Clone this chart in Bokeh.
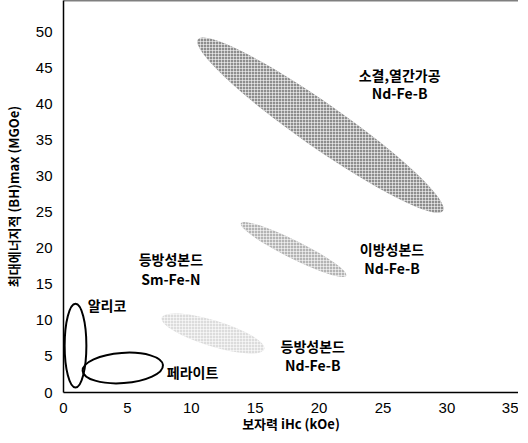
from bokeh.plotting import figure
from bokeh.models import ColumnDataSource, Range1d, Span, FixedTicker
from bokeh.core.properties import value
from bokeh.embed import file_html
from bokeh.resources import INLINE
import math

# --- data ---------------------------------------------------------------
# filled (stippled) regions
fill_names = ["소결,열간가공 Nd-Fe-B", "이방성본드 Nd-Fe-B", "등방성본드 Nd-Fe-B"]
fill_cx = [20.1, 18.0, 11.7]          # coercivity iHc (kOe), centre
fill_cy = [37.1, 19.85, 8.2]          # (BH)max (MGOe), centre
fill_w = [23.4, 9.2, 8.4]             # major extent (kOe)
fill_h = [6.1, 2.5, 3.6]              # minor extent (MGOe)
fill_angle_deg = [-35.0, -26.5, -17.0]
fill_colors = ["#8e8e8e", "#b4b4b4", "#dcdcdc"]

# outline regions
line_names = ["알리코", "페라이트"]
line_cx = [0.94, 4.64]
line_cy = [6.5, 3.4]
line_w = [1.7, 6.3]
line_h = [11.6, 4.2]
line_angle_deg = [0.0, 4.0]

# labels
label_text = ["소결,열간가공", "Nd-Fe-B",
              "이방성본드", "Nd-Fe-B",
              "등방성본드", "Sm-Fe-N",
              "등방성본드", "Nd-Fe-B",
              "알리코", "페라이트"]
label_x = [26.3, 26.3, 25.7, 25.7, 8.4, 8.4, 19.5, 19.5, 3.4, 10.1]
label_y = [44.1, 41.6, 19.9, 17.3, 18.5, 15.7, 6.5, 3.8, 12.1, 2.8]

x_ticks = [0, 5, 10, 15, 20, 25, 30, 35]
y_ticks = [0, 5, 10, 15, 20, 25, 30, 35, 40, 45, 50]
x_title = "보자력 iHc (kOe)"
y_title = "최대에너지적 (BH)max (MGOe)"
x_end = 35.6
y_end = 54.4

# --- figure -------------------------------------------------------------
p = figure(width=518, height=435, output_backend="svg", toolbar_location=None,
           x_range=Range1d(0, x_end), y_range=Range1d(0, y_end),
           min_border_left=53, min_border_right=0, min_border_top=0,
           min_border_bottom=40)
p.outline_line_color = None
p.grid.visible = False
p.background_fill_color = "white"
p.border_fill_color = "white"

src_fill = ColumnDataSource(dict(
    x=fill_cx, y=fill_cy, w=fill_w, h=fill_h,
    a=[math.radians(d) for d in fill_angle_deg], c=fill_colors, n=fill_names))
p.ellipse(x="x", y="y", width="w", height="h", angle="a", source=src_fill,
          fill_color="c", line_color=None,
          hatch_pattern="+", hatch_color="white", hatch_scale=3,
          hatch_weight=1, hatch_alpha=0.55)

src_line = ColumnDataSource(dict(
    x=line_cx, y=line_cy, w=line_w, h=line_h,
    a=[math.radians(d) for d in line_angle_deg], n=line_names))
p.ellipse(x="x", y="y", width="w", height="h", angle="a", source=src_line,
          fill_color=None, line_color="black", line_width=2)

src_lab = ColumnDataSource(dict(x=label_x, y=label_y, t=label_text))
p.text(x="x", y="y", text="t", source=src_lab,
       text_font=value("Noto Sans CJK KR"), text_font_style="bold",
       text_font_size="14px", text_align="center", text_baseline="middle",
       text_color="black")

top = Span(location=y_end, dimension="width", line_color="black", line_width=1.5)
p.add_layout(top)

for ax in (p.xaxis[0], p.yaxis[0]):
    ax.axis_line_color = "black"
    ax.axis_line_width = 1.5
    ax.major_tick_line_color = None
    ax.minor_tick_line_color = None
    ax.major_tick_out = 0
    ax.major_tick_in = 0
    ax.minor_tick_out = 0
    ax.minor_tick_in = 0
    ax.major_label_text_font = "Liberation Sans"
    ax.major_label_text_font_size = "15px"
    ax.major_label_text_color = "black"
    ax.axis_label_text_font = "Noto Sans CJK KR"
    ax.axis_label_text_font_style = "bold"
    ax.axis_label_text_font_size = "13px"
    ax.axis_label_text_color = "black"

p.xaxis.ticker = FixedTicker(ticks=x_ticks)
p.yaxis.ticker = FixedTicker(ticks=y_ticks)
p.xaxis.major_label_standoff = 10
p.yaxis.major_label_standoff = 11
p.xaxis.axis_label = x_title
p.xaxis.axis_label_standoff = -2
p.yaxis.axis_label = y_title
p.yaxis.axis_label_standoff = 10

open("out.html", "w").write(file_html(p, INLINE))
